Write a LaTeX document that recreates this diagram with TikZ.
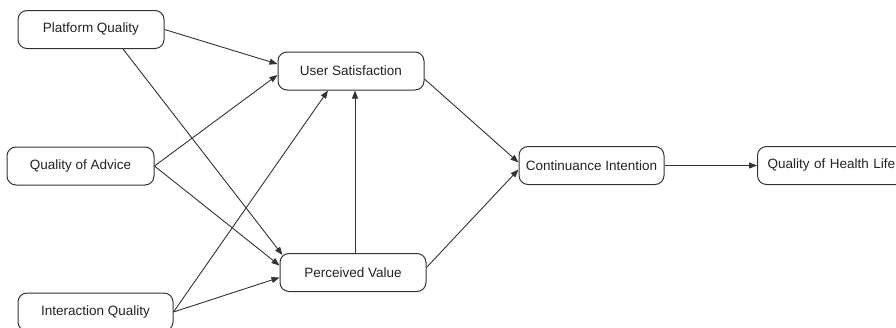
\documentclass[tikz,border=0pt]{standalone}
\usepackage{fontspec}
\setmainfont{Liberation Sans}
\usetikzlibrary{arrows.meta}
\definecolor{ln}{HTML}{333333}
\definecolor{tx}{HTML}{222222}
\begin{document}
\begin{tikzpicture}[x=1pt,y=-1pt,
  box/.style={draw=ln, line width=1pt, rounded corners=9pt, minimum height=38pt, inner sep=0pt, text=tx, font=\fontsize{13.5}{15}\selectfont},
  arr/.style={draw=ln, line width=0.9pt, -{Triangle[length=8pt,width=6pt]}}]
\useasboundingbox (0,0) rectangle (896,327);
\node[box, minimum width=146pt] (pq) at (91,29.5) {Platform Quality};
\node[box, minimum width=146pt] (us) at (351,71) {User Satisfaction};
\node[box, minimum width=147pt] (qa) at (80.5,166) {Quality of Advice};
\node[box, minimum width=146pt] (pv) at (353,272.5) {Perceived Value};
\node[box, minimum width=155pt] (iq) at (95.5,312) {Interaction Quality};
\node[box, minimum width=145pt] (ci) at (591.5,165.5) {Continuance Intention};
\node[box, minimum width=150pt, text width=150pt, anchor=west] (qh) at (757,165.5) {\hspace*{10pt}Quality of Health Life};
\draw[arr] (pq.east) -- ([yshift=7pt]us.west);
\draw[arr] ([xshift=32pt]pq.south) -- ([xshift=3pt,yshift=-2pt]pv.north west);
\draw[arr] (qa.east) -- ([yshift=-4pt]us.west);
\draw[arr] (qa.east) -- ([yshift=7pt]pv.west);
\draw[arr] (iq.east) -- ([xshift=-23pt]us.south);
\draw[arr] (iq.east) -- ([yshift=-5pt]pv.west);
\draw[arr] ([xshift=2pt]pv.north) -- ([xshift=2pt]pv.north |- us.south);
\draw[arr] ([yshift=-8pt]us.east) -- ([yshift=3pt]ci.west);
\draw[arr] ([yshift=5pt]pv.east) -- ([yshift=-4pt]ci.west);
\draw[arr] (ci.east) -- (qh.west);
\end{tikzpicture}
\end{document}
